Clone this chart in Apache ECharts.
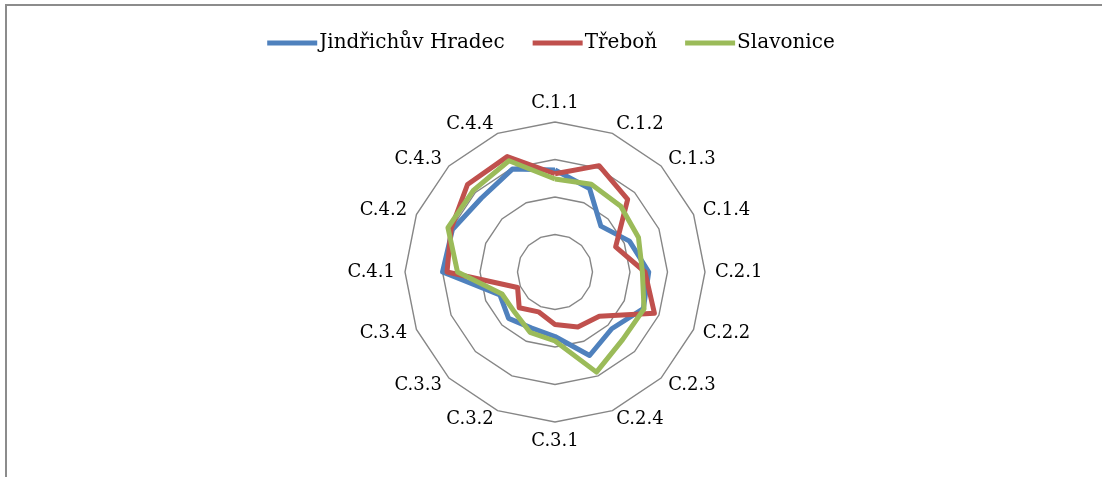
<!DOCTYPE html>
<html>
<head>
<meta charset="utf-8">
<script src="https://cdn.jsdelivr.net/npm/echarts@6/dist/echarts.min.js"></script>
<style>
html,body{margin:0;padding:0;background:#fff;}
#chart{width:1102px;height:477px;}
</style>
</head>
<body>
<div id="chart"></div>
<script>
const categories = ['C.1.1','C.1.2','C.1.3','C.1.4','C.2.1','C.2.2','C.2.3','C.2.4','C.3.1','C.3.2','C.3.3','C.3.4','C.4.1','C.4.2','C.4.3','C.4.4'];
const seriesNames = ['Jindřichův Hradec','Třeboň','Slavonice'];
const jindrichuvHradec = [2.72,2.41,1.73,2.15,2.5,2.55,2.14,2.41,1.72,1.62,1.75,1.59,3.0,2.96,2.78,2.97];
const trebon = [2.62,3.07,2.74,1.75,2.4,2.87,1.67,1.59,1.4,1.15,1.35,1.08,2.88,3.0,3.3,3.33];
const slavonice = [2.48,2.53,2.48,2.41,2.33,2.57,2.55,2.89,1.84,1.74,1.52,1.53,2.6,3.09,3.08,3.21];
const axisMax = 4;
const colors = ['#4F81BD','#C0504D','#9BBB59'];

// ECharts radar runs counter-clockwise; reorder so categories run clockwise from the top
const order = [0].concat(categories.map((_, i) => categories.length - 1 - i).slice(0, categories.length - 1));
const reorder = arr => order.map(i => arr[i]);

const chart = echarts.init(document.getElementById('chart'));
const seriesData = [jindrichuvHradec, trebon, slavonice];
chart.setOption({
  animation: false,
  color: colors,
  legend: {
    top: 28,
    left: 'center',
    itemWidth: 50,
    itemHeight: 5,
    itemGap: 28,
    icon: 'rect',
    textStyle: {fontFamily: 'DejaVu Serif', fontSize: 20, color: '#000', padding: [0,0,0,-3]},
    data: seriesNames
  },
  graphic: [
    {type:'line', shape:{x1:5, y1:5, x2:1102, y2:5}, style:{stroke:'#8c8c8c', lineWidth:2}},
    {type:'line', shape:{x1:6, y1:4, x2:6, y2:477}, style:{stroke:'#8c8c8c', lineWidth:2}}
  ],
  radar: {
    center: [555, 272],
    radius: 150,
    startAngle: 90,
    shape: 'polygon',
    splitNumber: 4,
    nameGap: 10,
    indicator: reorder(categories).map(n => ({name: n, min: 0, max: axisMax})),
    axisName: {color: '#000', fontFamily: 'DejaVu Serif', fontSize: 18},
    axisLine: {show: false},
    splitArea: {show: false},
    splitLine: {lineStyle: {color: '#868686', width: 1.4}}
  },
  series: [{
    type: 'radar',
    symbol: 'none',
    data: seriesNames.map((n,i) => ({
      name: n,
      value: reorder(seriesData[i]),
      lineStyle: {color: colors[i], width: 5}
    }))
  }]
});
</script>
</body>
</html>
